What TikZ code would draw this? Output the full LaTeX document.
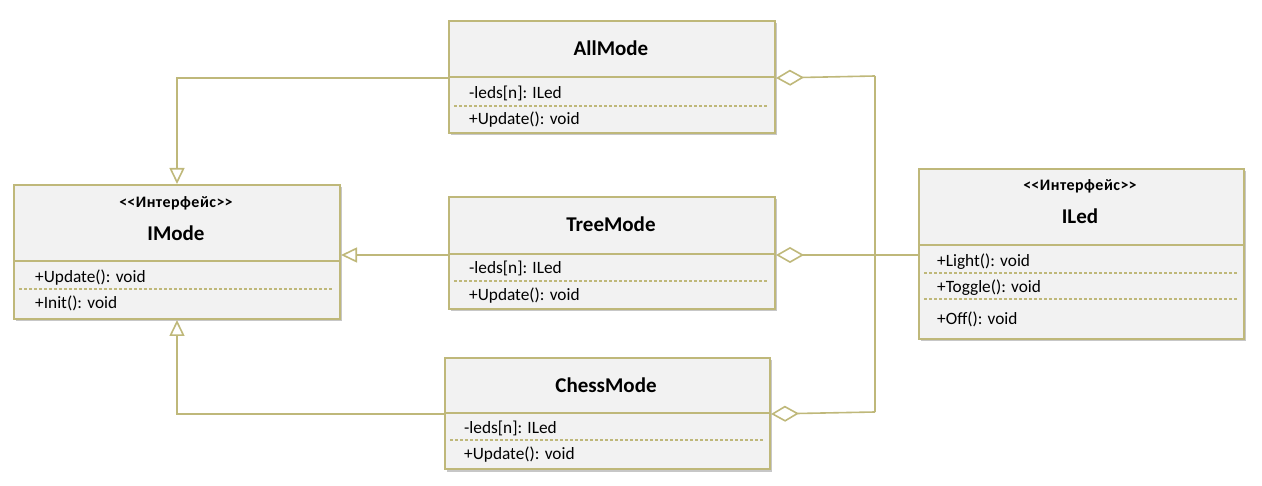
\documentclass[tikz,border=0pt]{standalone}
\usepackage{fontspec}
\setmainfont{Carlito}
\usetikzlibrary{arrows.meta,shadows,calc}
\definecolor{umlline}{RGB}{191,184,122}
\definecolor{umlfill}{RGB}{242,242,242}
\newcommand{\stereotxt}{<\kern0pt<Интерфейс>\kern0pt>}
\begin{document}
\begin{tikzpicture}[x=1pt,y=-1pt,
  part/.style={draw=umlline, line width=2pt, fill=umlfill, rectangle, inner sep=0pt,
    anchor=north west,
    drop shadow={shadow xshift=2pt, shadow yshift=-2.5pt, opacity=0.22, fill=black}},
  stereo/.style={inner sep=0pt, font=\fontsize{16}{18}\selectfont\bfseries\addfontfeatures{LetterSpace=3}},
  ctitle/.style={inner sep=0pt, font=\fontsize{21}{25}\selectfont\bfseries},
  member/.style={inner sep=0pt, anchor=mid west, font=\fontsize{17.3}{20}\selectfont},
  sep/.style={draw=umlline, line width=1.2pt, dash pattern=on 3pt off 2pt},
  conn/.style={draw=umlline, line width=1.6pt},
  inh/.style={conn, -{Triangle[open, length=16pt, width=15pt, line width=1.6pt]}},
  agg/.style={conn, -{Diamond[open, length=28pt, width=16pt, line width=1.6pt]}}]
\useasboundingbox (0,0) rectangle (1262,486);

% IMode
\node[part, minimum width=326pt, minimum height=76pt] (imodeH) at (13,184) {};
\node[part, minimum width=326pt, minimum height=58pt] (imodeB) at (13,260) {};
\node[stereo] (imodeS) at (176,203) {\stereotxt};
\node[ctitle] (imodeT) at (176,233) {IMode};
\node[member] (imodeM1) at (35,280) {+Update(): void};
\node[member] (imodeM2) at (35,306) {+Init(): void};
\draw[sep] (19,289) -- (333,289);

% AllMode
\node[part, minimum width=326pt, minimum height=56pt] (allH) at (448,20) {};
\node[part, minimum width=326pt, minimum height=56pt] (allB) at (448,76) {};
\node[ctitle] (allT) at (611,48) {AllMode};
\node[member] (allM1) at (469,96) {-leds[n]: ILed};
\node[member] (allM2) at (469,122) {+Update(): void};
\draw[sep] (454,106) -- (768,106);

% TreeMode
\node[part, minimum width=326pt, minimum height=57pt] (treeH) at (448,196) {};
\node[part, minimum width=326pt, minimum height=55pt] (treeB) at (448,253) {};
\node[ctitle] (treeT) at (611,224) {TreeMode};
\node[member] (treeM1) at (469,271) {-leds[n]: ILed};
\node[member] (treeM2) at (469,298) {+Update(): void};
\draw[sep] (454,281) -- (768,281);

% ChessMode
\node[part, minimum width=325pt, minimum height=55pt] (chessH) at (444,357) {};
\node[part, minimum width=325pt, minimum height=56pt] (chessB) at (444,412) {};
\node[ctitle] (chessT) at (606,385) {ChessMode};
\node[member] (chessM1) at (464,431) {-leds[n]: ILed};
\node[member] (chessM2) at (464,457) {+Update(): void};
\draw[sep] (450,440) -- (763,440);

% ILed
\node[part, minimum width=325pt, minimum height=76pt] (ledH) at (918,168) {};
\node[part, minimum width=325pt, minimum height=94pt] (ledB) at (918,244) {};
\node[stereo] (ledS) at (1080,186) {\stereotxt};
\node[ctitle] (ledT) at (1080,216) {ILed};
\node[member] (ledM1) at (937,264) {+Light(): void};
\node[member] (ledM2) at (937,290) {+Toggle(): void};
\node[member] (ledM3) at (937,322) {+Off(): void};
\draw[sep] (924,273) -- (1237,273);
\draw[sep] (924,299) -- (1237,299);

% generalisation
\draw[inh] (allH.south west) -| (imodeH.north);
\draw[inh] (treeH.south west) -- (treeH.south west -| imodeH.east);
\draw[inh] (chessH.south west) -| (imodeB.south);

% aggregation
\coordinate (busT) at (875,76);
\coordinate (busB) at (875,412);
\draw[conn] (busT) -- (busB);
\draw[agg] (busT) -- (allH.south east);
\draw[agg] (busB) -- (chessH.south east);
\draw[agg] (ledH.south west |- treeH.south east) -- (treeH.south east);
\end{tikzpicture}
\end{document}
